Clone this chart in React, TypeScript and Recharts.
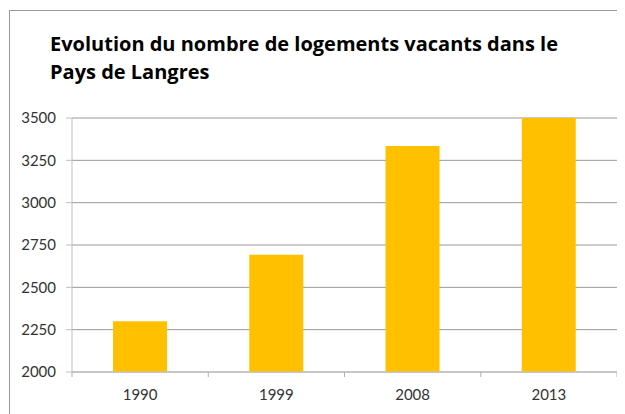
import React from "react";
import { BarChart, Bar, XAxis, YAxis, CartesianGrid } from "recharts";

const years = ["1990", "1999", "2008", "2013"];
const vacants = [2300, 2693, 3335, 3500];
const yTicks = [2000, 2250, 2500, 2750, 3000, 3250, 3500];
const titleLines = ["Evolution du nombre de logements vacants dans le", "Pays de Langres"];

const data = years.map((y, i) => ({ year: y, value: vacants[i] }));

const W = 617;
const H = 406;
const margin = { top: 110, right: 8, bottom: 12, left: 4 };
const yAxisWidth = 60;
const plotWidth = W - margin.left - margin.right - yAxisWidth;
const band = plotWidth / years.length;
const TICK_LEN = 5;
const TICK_GAP = 12;

const XTick = (props: any) => {
  const { x, y, payload, index } = props;
  const axisY = y - TICK_LEN - TICK_GAP;
  const left = x - band / 2;
  const right = x + band / 2;
  return (
    <g>
      <line x1={left} x2={left} y1={axisY} y2={axisY + TICK_LEN} stroke="#b0b0b0" />
      {index === years.length - 1 && (
        <line x1={right} x2={right} y1={axisY} y2={axisY + TICK_LEN} stroke="#b0b0b0" />
      )}
      <text x={x} y={y} dy="0.71em" textAnchor="middle" fill="#333" fontSize={15} fontFamily="Lato">
        {payload.value}
      </text>
    </g>
  );
};

export default function App() {
  return (
    <div style={{ position: "relative", width: W, height: H, overflow: "hidden", background: "#fff" }}>
      <div
        style={{
          position: "absolute",
          left: 1,
          top: 2,
          width: W + 50,
          height: H + 50,
          borderTop: "1px solid #9a9a9a",
          borderLeft: "1px solid #9a9a9a",
        }}
      />
      <div
        style={{
          position: "absolute",
          left: 42,
          top: 22,
          fontFamily: "'Open Sans'",
          fontWeight: 700,
          fontSize: 20,
          lineHeight: "28px",
          color: "#000",
          whiteSpace: "nowrap",
        }}
      >
        {titleLines[0]}
        <br />
        {titleLines[1]}
      </div>
      <div style={{ position: "absolute", left: 0, top: 0 }}>
        <BarChart width={W} height={H} data={data} margin={margin}>
          <CartesianGrid vertical={false} stroke="#999" />
          <XAxis
            dataKey="year"
            height={30}
            axisLine={{ stroke: "#c0c0c0" }}
            tickLine={false}
            tickSize={TICK_LEN}
            tickMargin={TICK_GAP}
            tick={<XTick />}
            interval={0}
          />
          <YAxis
            width={yAxisWidth}
            domain={[2000, 3500]}
            ticks={yTicks}
            interval={0}
            axisLine={{ stroke: "#c0c0c0" }}
            tickLine={{ stroke: "#c0c0c0" }}
            tickSize={6}
            tickMargin={10}
            tick={{ fill: "#333", fontSize: 15, fontFamily: "Lato" }}
          />
          <Bar dataKey="value" fill="#FFC000" barSize={54} isAnimationActive={false} />
        </BarChart>
      </div>
    </div>
  );
}
